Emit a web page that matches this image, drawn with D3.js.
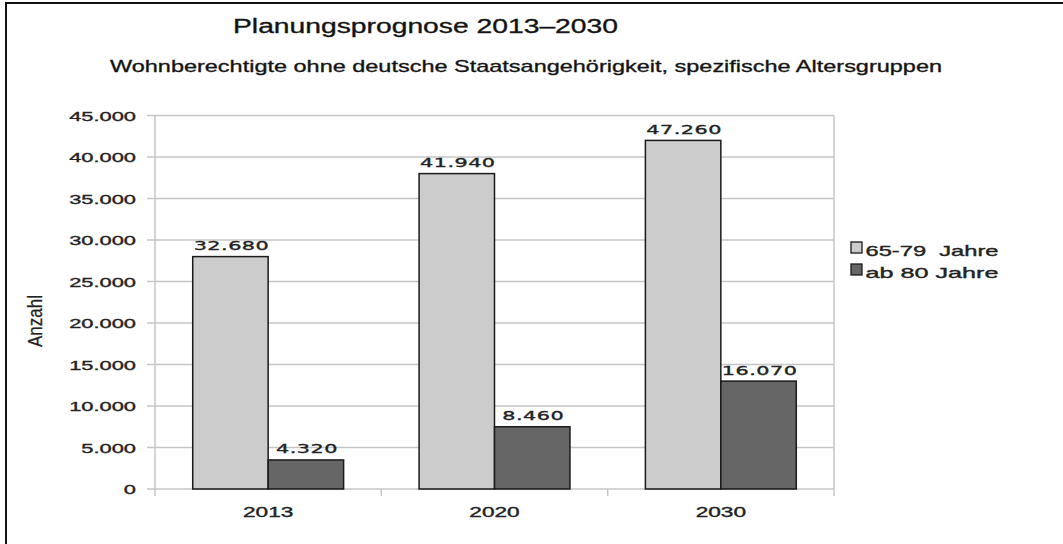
<!DOCTYPE html>
<html>
<head>
<meta charset="utf-8">
<script src="https://cdn.jsdelivr.net/npm/d3@7"></script>
<style>
  body { margin: 0; background: #fff; }
  svg { display: block; }
  text { font-family: "Liberation Sans", Arial, sans-serif; fill: #222; stroke: #222; stroke-width: 0.35px; }
</style>
</head>
<body>
<svg id="chart" width="1063" height="544"></svg>
<script>
(function () {
    'use strict';

    var years = ["2013", "2020", "2030"];
    var seriesNames = ["65-79  Jahre", "ab 80 Jahre"];
    // bar heights as drawn in the picture
    var youngBars = [28000, 38000, 42000];
    var oldBars = [3500, 7500, 13000];
    // numbers printed above the bars
    var youngLabels = [32680, 41940, 47260];
    var oldLabels = [4320, 8460, 16070];
    var yTicks = [0, 5000, 10000, 15000, 20000, 25000, 30000, 35000, 40000, 45000];

    var colors = ["#cccccc", "#666666"];
    var de = d3.formatLocale({ decimal: ",", thousands: ".", grouping: [3], currency: ["", " €"] });
    var fmt = de.format(",d");

    var left = 155, right = 834, top = 115.5, bottom = 489;
    var sx = 1.62; // picture is stretched horizontally

    var svg = d3.select("#chart");

    // frame
    svg.append("path")
        .attr("d", "M6,545 L6,3 L1064,3")
        .style("fill", "none")
        .style("stroke", "#111")
        .style("stroke-width", "2px");

    var x = d3.scaleBand().domain(years).range([left, right]).padding(0);
    var x1 = d3.scaleBand().domain([0, 1]).range([0, x.bandwidth()]).paddingInner(0).paddingOuter(0.5);
    var y = d3.scaleLinear().domain([0, 45000]).range([bottom, top]);

    // grid
    svg.append("g").selectAll("line")
        .data(yTicks)
        .enter()
        .append("line")
        .attr("x1", left - 8)
        .attr("x2", right)
        .attr("y1", function (d) { return y(d); })
        .attr("y2", function (d) { return y(d); })
        .style("stroke", "#c6c6c6")
        .style("stroke-width", "1.5px");

    svg.append("line")
        .attr("x1", left).attr("x2", left)
        .attr("y1", y(45000)).attr("y2", bottom)
        .style("stroke", "#c6c6c6").style("stroke-width", "1.5px");
    svg.append("line")
        .attr("x1", right).attr("x2", right)
        .attr("y1", y(45000)).attr("y2", bottom + 7)
        .style("stroke", "#c6c6c6").style("stroke-width", "1.5px");

    // x ticks at the band edges
    svg.append("g").selectAll("line")
        .data(years)
        .enter()
        .append("line")
        .attr("x1", function (d) { return x(d); })
        .attr("x2", function (d) { return x(d); })
        .attr("y1", bottom)
        .attr("y2", bottom + 7)
        .style("stroke", "#c6c6c6")
        .style("stroke-width", "1.5px");

    // y tick labels
    svg.append("g").selectAll("text")
        .data(yTicks)
        .enter()
        .append("text")
        .attr("transform", function (d) { return "translate(136," + (y(d) + 5) + ") scale(" + sx + ",1)"; })
        .attr("text-anchor", "end")
        .style("font-size", "13.5px")
        .text(function (d) { return fmt(d); });

    // x labels
    svg.append("g").selectAll("text")
        .data(years)
        .enter()
        .append("text")
        .attr("transform", function (d) { return "translate(" + (x(d) + x.bandwidth() / 2) + ",517) scale(" + sx + ",1)"; })
        .attr("text-anchor", "middle")
        .style("font-size", "14px")
        .text(function (d) { return d; });

    // bars
    var rows = years.map(function (yr, i) {
        return [
            { year: yr, s: 0, v: youngBars[i], lab: youngLabels[i] },
            { year: yr, s: 1, v: oldBars[i], lab: oldLabels[i] }
        ];
    });

    var groups = svg.append("g").selectAll("g")
        .data(rows)
        .enter()
        .append("g")
        .attr("transform", function (d) { return "translate(" + x(d[0].year) + ",0)"; });

    groups.selectAll("rect")
        .data(function (d) { return d; })
        .enter()
        .append("rect")
        .attr("x", function (d) { return x1(d.s); })
        .attr("y", function (d) { return y(d.v); })
        .attr("width", x1.bandwidth())
        .attr("height", function (d) { return bottom - y(d.v); })
        .style("fill", function (d) { return colors[d.s]; })
        .style("stroke", "#1a1a1a")
        .style("stroke-width", "1.5px");

    groups.selectAll("text")
        .data(function (d) { return d; })
        .enter()
        .append("text")
        .attr("transform", function (d) {
            return "translate(" + (x1(d.s) + x1.bandwidth() / 2 + 1) + "," + (y(d.v) - 6.5) + ") scale(1.6,1)";
        })
        .attr("text-anchor", "middle")
        .style("font-family", "'DejaVu Sans', sans-serif")
        .style("font-size", "13px")
        .style("letter-spacing", "0.3px")
        .text(function (d) { return fmt(d.lab); });

    // legend
    var legend = svg.append("g").selectAll("g")
        .data(seriesNames)
        .enter()
        .append("g")
        .attr("transform", function (d, i) { return "translate(851," + (242 + i * 22) + ")"; });
    legend.append("rect")
        .attr("width", 11)
        .attr("height", 11)
        .style("fill", function (d, i) { return colors[i]; })
        .style("stroke", "#1a1a1a")
        .style("stroke-width", "1.3px");
    legend.append("text")
        .attr("x", 14.5)
        .attr("y", 13.5)
        .attr("textLength", 133)
        .attr("lengthAdjust", "spacingAndGlyphs")
        .style("font-size", "14.5px")
        .style("white-space", "pre")
        .text(function (d) { return d; });

    // titles
    svg.append("text")
        .attr("x", 233)
        .attr("y", 33)
        .attr("textLength", 385)
        .attr("lengthAdjust", "spacingAndGlyphs")
        .style("font-size", "19.5px")
        .style("fill", "#111")
        .text("Planungsprognose 2013–2030");
    svg.append("text")
        .attr("x", 110)
        .attr("y", 72)
        .attr("textLength", 832)
        .attr("lengthAdjust", "spacingAndGlyphs")
        .style("font-size", "17px")
        .style("fill", "#111")
        .text("Wohnberechtigte ohne deutsche Staatsangehörigkeit, spezifische Altersgruppen");

    svg.append("text")
        .attr("transform", "translate(42,321) scale(1.2,1) rotate(-90)")
        .attr("text-anchor", "middle")
        .style("font-size", "17px")
        .style("stroke-width", "0.2px")
        .text("Anzahl");
}());
</script>
</body>
</html>
